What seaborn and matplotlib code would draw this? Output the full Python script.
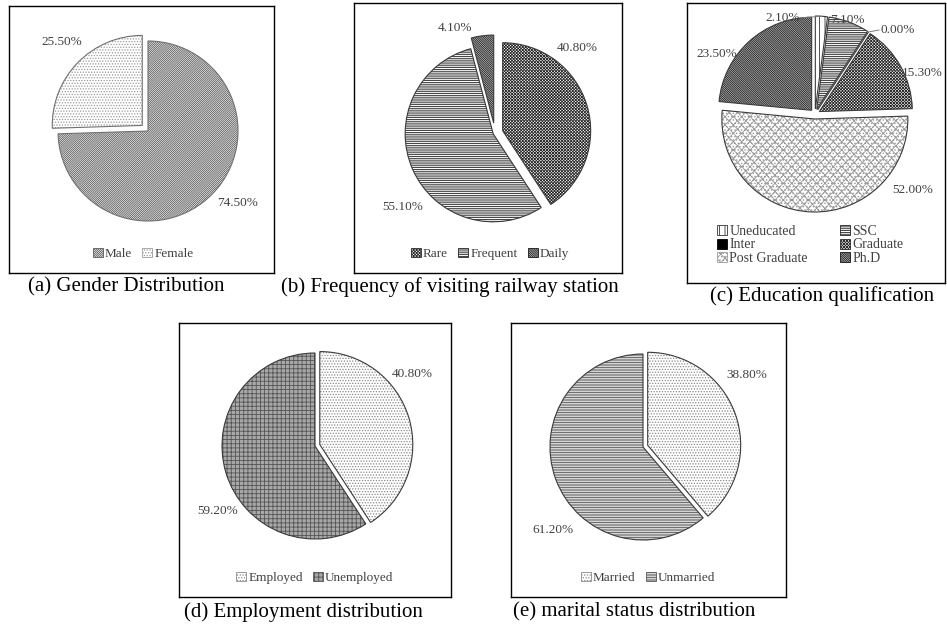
import matplotlib
matplotlib.use("Agg")
import numpy as np
import matplotlib.pyplot as plt
import matplotlib.patches as mpatches
import seaborn as sns

W, H = 947, 630

# Gender distribution
gender_labels = ["Male", "Female"]
gender_values = [74.5, 25.5]

# Frequency of visiting the railway station
visit_labels = ["Rare", "Frequent", "Daily"]
visit_values = [40.8, 55.1, 4.1]

# Education qualification
edu_labels = ["Uneducated", "SSC", "Inter", "Graduate", "Post Graduate", "Ph.D"]
edu_values = [2.1, 7.1, 0.0, 15.3, 52.0, 23.5]

# Employment distribution
emp_labels = ["Employed", "Unemployed"]
emp_values = [40.8, 59.2]

# Marital status distribution
mar_labels = ["Married", "Unmarried"]
mar_values = [38.8, 61.2]

captions = [
    "(a) Gender Distribution",
    "(b) Frequency of visiting railway station",
    "(c) Education qualification",
    "(d) Employment distribution",
    "(e) marital status distribution",
]

sns.set_theme(style="white")
plt.rcParams["font.family"] = ["Liberation Serif", "DejaVu Serif"]
plt.rcParams["hatch.linewidth"] = 0.6

fig = plt.figure(figsize=(W / 100, H / 100), dpi=100)
fig.patch.set_facecolor("white")

LABEL_COLOR = "#404040"


def panel(box, center, radius, values, labels, styles, explode, lab_pos,
          legend_xy, legend_ncol=1, legend_order=None, colspacing=0.8,
          leaders=None, legend_fs=9.5, outline="#3a3a3a"):
    l, t, r, b = box
    ax = fig.add_axes([l / W, 1 - b / H, (r - l) / W, (b - t) / H])
    cx, cy = center[0], H - center[1]
    faces = [s[0] for s in styles]
    hcols = [s[1] for s in styles]
    hatches = [s[2] for s in styles]

    # hatched fills first, then a thin outline on top
    wedges, _ = ax.pie(values, explode=explode, startangle=90, counterclock=False,
                       center=(cx, cy), radius=radius, colors=faces, frame=True,
                       wedgeprops=dict(linewidth=0))
    for w, hc, h in zip(wedges, hcols, hatches):
        w.set_edgecolor(hc)
        w.set_hatch(h)
    ax.pie(values, explode=explode, startangle=90, counterclock=False,
           center=(cx, cy), radius=radius, frame=True,
           wedgeprops=dict(fill=False, edgecolor=outline, linewidth=0.8))

    ax.set_xlim(l, r)
    ax.set_ylim(H - b, H - t)
    ax.set_aspect("auto")
    ax.set_xticks([])
    ax.set_yticks([])
    for sp in ax.spines.values():
        sp.set_visible(True)
        sp.set_color("black")
        sp.set_linewidth(1.0)

    # percentage labels placed around each slice
    for i, (w, v) in enumerate(zip(wedges, values)):
        mid = np.deg2rad((w.theta1 + w.theta2) / 2)
        off, dist = lab_pos[i]
        ang = mid + np.deg2rad(off)
        tx = cx + dist * radius * np.cos(ang)
        ty = cy + dist * radius * np.sin(ang)
        ax.text(tx, ty, f"{v:.2f}%", ha="center", va="center",
                fontsize=9.5, color=LABEL_COLOR, clip_on=False)
        if leaders and i in leaders:
            wx, wy = w.center
            ex = wx + radius * np.cos(mid)
            ey = wy + radius * np.sin(mid)
            ax.plot([tx + leaders[i], ex], [ty, ey], color="#7a7a7a", lw=0.7)

    handles = [mpatches.Patch(facecolor=f, edgecolor=hc, hatch=h, linewidth=0.6)
               for f, hc, h in zip(faces, hcols, hatches)]
    names = list(labels)
    if legend_order is not None:
        handles = [handles[k] for k in legend_order]
        names = [names[k] for k in legend_order]
    lx = (legend_xy[0] - l) / (r - l)
    ly = 1 - (legend_xy[1] - t) / (b - t)
    ax.legend(handles, names, loc="center", bbox_to_anchor=(lx, ly),
              ncol=legend_ncol, frameon=False, fontsize=legend_fs,
              handlelength=0.75, handleheight=0.75, handletextpad=0.15,
              columnspacing=colspacing, labelspacing=0.05, borderpad=0,
              labelcolor=LABEL_COLOR)
    return ax


BS = "\\"

# (a) gender
panel(box=(9, 6, 274, 273), center=(148, 131), radius=90,
      values=gender_values, labels=gender_labels,
      styles=[("white", "#5a5a5a", "/" * 16), ("white", "#9a9a9a", "." * 6)],
      explode=[0, 8], lab_pos=[(5.4, 1.28), (-1.9, 1.38)],
      legend_xy=(143, 254), legend_ncol=2, outline="#707070")

# (b) visiting frequency
panel(box=(354, 3, 622, 273), center=(495, 133), radius=88,
      values=visit_values, labels=visit_labels,
      styles=[("white", "#2a2a2a", "x" * 11), ("white", "#222222", "-" * 9),
              ("white", "#151515", BS * 18)],
      explode=[8, 2, 10], lab_pos=[(29.4, 1.34), (14.9, 1.34), (13.3, 1.28)],
      legend_xy=(490, 254), legend_ncol=3)

# (c) education
panel(box=(687, 3, 945, 283), center=(815, 114), radius=93,
      values=edu_values, labels=edu_labels,
      styles=[("white", "#333333", "|||"), ("white", "#222222", "-" * 9),
              ("black", "black", ""), ("white", "#2a2a2a", "x" * 11),
              ("white", "#9a9a9a", "xxxx" + "." * 5), ("white", "#111111", BS * 18)],
      explode=[5, 5, 5, 5, 5, 5],
      lab_pos=[(22.2, 1.09), (1.5, 1.07), (-11.6, 1.27), (-8.3, 1.23), (54, 1.33), (16.2, 1.24)],
      legend_xy=(810, 245), legend_ncol=2, legend_order=[0, 2, 4, 1, 3, 5],
      colspacing=2.3, leaders={0: 18, 2: -19}, legend_fs=10)

# (d) employment
panel(box=(179, 323, 451, 597), center=(315, 446), radius=93,
      values=emp_values, labels=emp_labels,
      styles=[("white", "#8a8a8a", "." * 6), ("#a8a8a8", "#555555", "++++")],
      explode=[5, 0], lab_pos=[(20, 1.30), (17.4, 1.26)],
      legend_xy=(315, 578), legend_ncol=2)

# (e) marital status
panel(box=(511, 323, 786, 597), center=(643, 447), radius=93,
      values=mar_values, labels=mar_labels,
      styles=[("white", "#8a8a8a", "." * 6), ("white", "#555555", "-" * 10)],
      explode=[5, 0], lab_pos=[(14.5, 1.36), (22.5, 1.32)],
      legend_xy=(648, 578), legend_ncol=2)

# sub-figure captions
cap_pos = [(126, 287), (450, 287), (822, 296), (303, 612), (634, 612)]
for text, (x, y) in zip(captions, cap_pos):
    fig.text(x / W, 1 - y / H, text, ha="center", va="center",
             fontsize=15, color="black")

fig.savefig("out.png", dpi=100)
